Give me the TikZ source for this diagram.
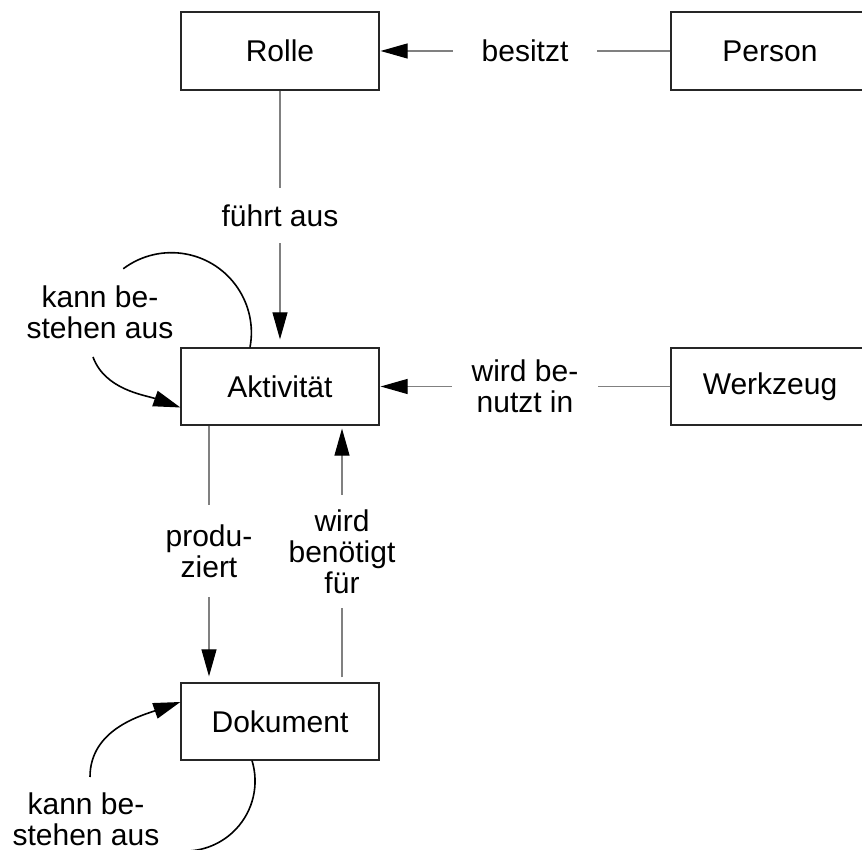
\documentclass[tikz,border=0pt]{standalone}
\usepackage{fontspec}
\setmainfont{Liberation Sans}
\usetikzlibrary{arrows.meta}
\begin{document}
\begin{tikzpicture}[x=1pt,y=1pt,
  font=\fontsize{30}{31}\selectfont,
  box/.style={draw=black!85, line width=1.2pt, minimum width=198pt, minimum height=77pt, inner sep=0pt},
  lbl/.style={inner sep=0pt, align=center},
  conn/.style={draw=black!50, line width=1.1pt},
  tipg/.style={-{Triangle[length=27pt,width=15pt,color=black]}},
  tipb/.style={-{Triangle[length=27pt,width=16pt]}},
  loopc/.style={draw=black, line width=1.6pt}]
\useasboundingbox (0,0) rectangle (862,850);
% boxes
\node[box, minimum height=78pt] (rolle) at (280,799) {Rolle};
\node[box, minimum height=78pt] (person) at (770,799) {Person};
\node[box] (akt) at (280,463.5) {Aktivität};
\node[box] (werk) at (770,463.5) {Werkzeug};
\node[box] (dok) at (280,128.5) {Dokument};
% labels
\node[lbl, minimum width=144pt] (lbes) at (525,799) {besitzt};
\node[lbl, minimum width=146pt] (lben) at (525,463.5) {wird be-\\nutzt in};
\node[lbl, minimum height=55pt] (lfa) at (280,634.5) {führt aus};
\node[lbl, minimum height=92pt] (lpr) at (209,299) {produ-\\ziert};
\node[lbl, minimum height=113pt] (lbn) at (342,298.5) {wird\\benötigt\\für};
\node[lbl] (lk1) at (100,538) {kann be-\\stehen aus};
\node[lbl] (lk2) at (86,31) {kann be-\\stehen aus};
% horizontal connectors
\draw[conn] (person.west) -- (lbes.east);
\draw[conn,tipg,shorten >=1pt] (lbes.west) -- (rolle.east);
\draw[conn] (werk.west) -- (lben.east);
\draw[conn,tipg,shorten >=1pt] (lben.west) -- (akt.east);
% vertical connectors
\draw[conn] (rolle.south) -- (lfa.north);
\draw[conn,tipg,shorten >=8pt] (lfa.south) -- (akt.north);
\draw[conn] (lpr.north |- akt.south) -- (lpr.north);
\draw[conn,tipg,shorten >=6pt] (lpr.south) -- (lpr.south |- dok.north);
\draw[conn,shorten <=5pt] (lbn.south |- dok.north) -- (lbn.south);
\draw[conn,tipg,shorten >=3pt] (lbn.north) -- (lbn.north |- akt.south);
% self loops
\coordinate (k1a) at (93,493);
\coordinate (k2a) at (90,73);
\draw[loopc] ([xshift=-30pt]akt.north) arc[start angle=-10.6, end angle=127, radius=80pt];
\draw[loopc,tipb] (k1a) .. controls (105,460) and (145,455) .. ([yshift=-21pt]akt.west);
\draw[loopc,tipb] (k2a) .. controls (90,120) and (140,134) .. ([yshift=19.5pt]dok.west);
\draw[loopc] ([xshift=-28pt]dok.south) arc[start angle=17, end angle=-92, radius=70pt];
\end{tikzpicture}
\end{document}
